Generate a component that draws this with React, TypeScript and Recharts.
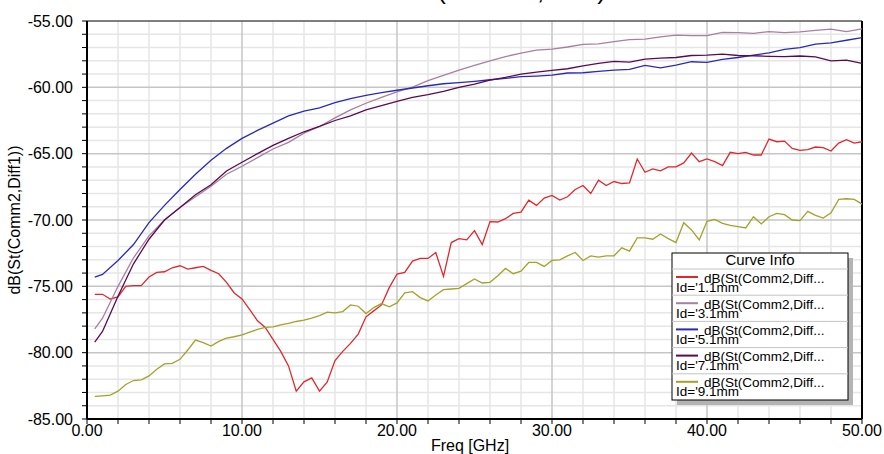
import { LineChart, Line, XAxis, YAxis, CartesianGrid, ReferenceLine } from "recharts";

// frequency grids (GHz)
const freqHalf = [
  0.5, 1, 1.5, 2, 2.5, 3, 3.5, 4, 4.5, 5, 5.5, 6, 6.5, 7, 7.5, 8, 8.5, 9, 9.5, 10,
  10.5, 11, 11.5, 12, 12.5, 13, 13.5, 14, 14.5, 15, 15.5, 16, 16.5, 17, 17.5, 18, 18.5, 19, 19.5, 20,
  20.5, 21, 21.5, 22, 22.5, 23, 23.5, 24, 24.5, 25, 25.5, 26, 26.5, 27, 27.5, 28, 28.5, 29, 29.5, 30,
  30.5, 31, 31.5, 32, 32.5, 33, 33.5, 34, 34.5, 35, 35.5, 36, 36.5, 37, 37.5, 38, 38.5, 39, 39.5, 40,
  40.5, 41, 41.5, 42, 42.5, 43, 43.5, 44, 44.5, 45, 45.5, 46, 46.5, 47, 47.5, 48, 48.5, 49, 49.5, 50,
];
const freqOne = [
  0.5, 1, 2, 3, 4, 5, 6, 7, 8, 9, 10, 11, 12, 13, 14, 15, 16, 17, 18, 19, 20,
  21, 22, 23, 24, 25, 26, 27, 28, 29, 30, 31, 32, 33, 34, 35, 36, 37, 38, 39, 40,
  41, 42, 43, 44, 45, 46, 47, 48, 49, 50,
];

// dB(St(Comm2,Diff1)) per Id value
const id1_1 = [
  -75.6, -75.6, -75.95, -75.8, -75.0, -74.95, -74.95, -74.3, -73.95, -73.9,
  -73.6, -73.45, -73.7, -73.6, -73.5, -73.8, -74.05, -74.7, -75.5, -75.95,
  -76.75, -77.6, -78.1, -79.0, -79.9, -81.0, -82.9, -82.2, -81.9, -82.9,
  -82.2, -80.6, -79.9, -79.3, -78.6, -77.3, -76.85, -76.4, -75.1, -74.07,
  -73.95, -73.1, -72.9, -72.9, -72.45, -74.25, -71.7, -71.4, -71.5, -70.8,
  -71.85, -70.12, -70.15, -69.9, -69.5, -69.4, -68.5, -68.9, -68.35, -68.15,
  -68.5, -68.25, -67.7, -67.4, -68.0, -67.0, -67.4, -67.1, -67.25, -67.2,
  -65.4, -66.4, -66.15, -66.3, -66.0, -66.0, -65.7, -64.95, -65.6, -65.4,
  -65.6, -65.9, -64.9, -65.0, -64.9, -65.1, -65.1, -63.9, -64.1, -64.05,
  -64.6, -64.75, -64.7, -64.5, -64.55, -64.8, -64.2, -63.95, -64.2, -64.1,
];
const id9_1 = [
  -83.3, -83.25, -83.2, -82.9, -82.4, -82.1, -82.05, -81.75, -81.25, -80.85,
  -80.8, -80.5, -79.8, -79.05, -79.25, -79.5, -79.15, -78.9, -78.8, -78.65,
  -78.45, -78.25, -78.1, -78.05, -77.9, -77.8, -77.65, -77.55, -77.4, -77.2,
  -76.95, -77.0, -76.9, -76.4, -76.5, -77.05, -76.6, -76.3, -76.55, -76.25,
  -75.5, -75.4, -75.85, -76.1, -75.65, -75.25, -75.2, -75.15, -74.8, -74.45,
  -74.75, -74.7, -74.2, -73.65, -74.05, -73.85, -73.2, -73.2, -73.5, -73.05,
  -73.0, -72.7, -72.45, -73.05, -72.7, -72.8, -72.7, -72.7, -72.1, -72.35,
  -71.35, -71.35, -71.45, -71.05, -71.4, -71.7, -70.2, -70.75, -71.5, -70.1,
  -69.95, -70.25, -70.4, -70.5, -70.6, -69.75, -70.3, -69.75, -69.5, -69.6,
  -70.0, -70.05, -69.35, -69.65, -69.85, -69.45, -68.45, -68.4, -68.45, -68.8,
];
const id3_1 = [
  -78.2, -77.4, -75.0, -72.85, -71.2, -70.0, -69.05, -68.25, -67.45, -66.55, -65.95,
  -65.3, -64.65, -64.15, -63.45, -62.95, -62.3, -61.7, -61.2, -60.75, -60.35,
  -59.98, -59.5, -59.1, -58.7, -58.35, -58.0, -57.68, -57.42, -57.2, -57.12,
  -56.96, -56.76, -56.72, -56.55, -56.4, -56.36, -56.2, -56.06, -56.1, -56.1,
  -55.86, -55.88, -55.93, -55.8, -55.88, -55.82, -55.7, -55.62, -55.8, -55.6,
];
const id5_1 = [
  -74.3, -74.1, -73.05, -71.85, -70.2, -68.9, -67.7, -66.55, -65.5, -64.6, -63.85,
  -63.25, -62.7, -62.15, -61.8, -61.55, -61.15, -60.85, -60.6, -60.4, -60.22,
  -60.05, -59.88, -59.73, -59.65, -59.55, -59.43, -59.32, -59.2, -59.15, -59.08,
  -58.92, -58.9, -58.8, -58.7, -58.65, -58.35, -58.53, -58.33, -58.07, -58.12,
  -57.9, -57.75, -57.57, -57.4, -57.14, -57.0, -56.74, -56.65, -56.45, -56.25,
];
const id7_1 = [
  -79.2, -78.4, -75.75, -73.3, -71.45, -70.0, -69.05, -68.1, -67.35, -66.3, -65.65,
  -65.0, -64.38, -63.85, -63.35, -62.95, -62.5, -62.15, -61.7, -61.37, -61.05,
  -60.75, -60.55, -60.3, -60.0, -59.75, -59.45, -59.25, -59.0, -58.85, -58.72,
  -58.6, -58.38, -58.2, -58.05, -58.1, -57.88, -57.8, -57.75, -57.6, -57.57,
  -57.5, -57.6, -57.62, -57.66, -57.68, -57.64, -57.7, -58.0, -57.95, -58.2,
];

const curveNames = ["Id='1.1mm", "Id='3.1mm", "Id='5.1mm", "Id='7.1mm", "Id='9.1mm"];
const curveColors = ["#e0282c", "#a97fa0", "#2a2ab8", "#5a0a55", "#a3a32a"];

const xTicks = [0, 2, 4, 6, 8, 10, 12, 14, 16, 18, 20, 22, 24, 26, 28, 30, 32, 34, 36, 38, 40, 42, 44, 46, 48, 50];
const yTicks = [
  -85, -84, -83, -82, -81, -80, -79, -78, -77, -76, -75, -74, -73, -72, -71, -70,
  -69, -68, -67, -66, -65, -64, -63, -62, -61, -60, -59, -58, -57, -56, -55,
];
const xMajor = [10, 20, 30, 40];
const yMajor = [-80, -75, -70, -65, -60];

const font = "'Liberation Sans', Arial, sans-serif";

const toPoints = (freqs: number[], vals: number[]) => freqs.map((f, i) => ({ f, v: vals[i] }));

const series = [
  toPoints(freqHalf, id1_1),
  toPoints(freqOne, id3_1),
  toPoints(freqOne, id5_1),
  toPoints(freqOne, id7_1),
  toPoints(freqHalf, id9_1),
];

function CurveInfo() {
  const left = 672;
  const top = 253;
  const w = 176;
  const h = 147;
  const rowTop = 269;
  const rowH = 26.2;
  return (
    <g>
      <rect x={left + 5} y={top + 5} width={w} height={h} fill="#b4b4b4" />
      <rect x={left} y={top} width={w} height={h} fill="#fff" stroke="#000" strokeWidth={1} />
      <text x={left + w / 2} y={265} textAnchor="middle" fontSize={15} fontFamily={font}>
        Curve Info
      </text>
      {curveNames.map((name, i) => {
        const y0 = rowTop + rowH * i;
        return (
          <g key={name}>
            <line x1={left} x2={left + w} y1={y0} y2={y0} stroke="#c4c4c4" strokeWidth={1} />
            <line x1={676} x2={698} y1={y0 + 8} y2={y0 + 8} stroke={curveColors[i]} strokeWidth={2} />
            <text x={704} y={y0 + 13.5} fontSize={13.5} fontFamily={font}>
              dB(St(Comm2,Diff...
            </text>
            <text x={676} y={y0 + 22.5} fontSize={13.5} fontFamily={font}>
              {name}
            </text>
          </g>
        );
      })}
    </g>
  );
}

export default function App() {
  return (
    <div style={{ position: "absolute", left: 0, top: 0, width: 884, height: 454, background: "#fff" }}>
      <LineChart width={884} height={454} margin={{ top: 21, right: 22, bottom: 0, left: 0 }}>
        <CartesianGrid
          stroke="#e6e6e6"
          strokeWidth={1.5}
          horizontalValues={yTicks.filter((t) => t % 5 !== 0)}
          verticalValues={xTicks.filter((t) => t % 10 !== 0)}
        />
        <CartesianGrid stroke="#c6c6c6" strokeWidth={1.5} horizontalValues={yMajor} verticalValues={xMajor} />
        <XAxis
          type="number"
          dataKey="f"
          domain={[0, 50]}
          ticks={xTicks}
          interval={0}
          height={35}
          allowDataOverflow
          tickFormatter={(t: number) => (t % 10 === 0 ? t.toFixed(2) : "")}
          tick={{ fontSize: 16, fill: "#000", fontFamily: font }}
          tickSize={5}
          tickMargin={1}
          axisLine={{ stroke: "#000", strokeWidth: 2 }}
          tickLine={{ stroke: "#000" }}
        />
        <YAxis
          type="number"
          dataKey="v"
          domain={[-85, -55]}
          ticks={yTicks}
          interval={0}
          width={87}
          allowDataOverflow
          tickFormatter={(t: number) => (t % 5 === 0 ? t.toFixed(2) : "")}
          tick={{ fontSize: 16, fill: "#000", fontFamily: font }}
          tickSize={5}
          tickMargin={9}
          axisLine={{ stroke: "#000", strokeWidth: 2 }}
          tickLine={{ stroke: "#000" }}
        />
        <ReferenceLine y={-55} stroke="#555" strokeWidth={1.5} />
        <ReferenceLine x={50} stroke="#000" strokeWidth={2} />
        {series.map((d, i) => (
          <Line
            key={curveNames[i]}
            data={d}
            dataKey="v"
            type="linear"
            stroke={curveColors[i]}
            strokeWidth={1.3}
            dot={false}
            activeDot={false}
            isAnimationActive={false}
          />
        ))}
      </LineChart>
      <svg
        width={884}
        height={454}
        style={{ position: "absolute", left: 0, top: 0, pointerEvents: "none" }}
      >
        <text x={329} y={-1} fontSize={26} fontFamily={font}>
          Crosstalk(Comm2,Diff1)
        </text>
        <text
          x={20}
          y={220}
          transform="rotate(-90 20 220)"
          textAnchor="middle"
          fontSize={16}
          fontFamily={font}
        >
          dB(St(Comm2,Diff1))
        </text>
        <text x={470} y={451} textAnchor="middle" fontSize={16} fontFamily={font}>
          Freq [GHz]
        </text>
        <CurveInfo />
      </svg>
    </div>
  );
}
